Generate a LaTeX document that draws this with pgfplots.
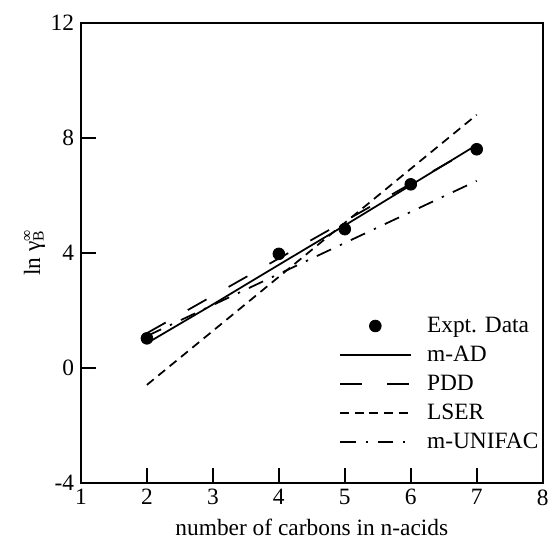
\documentclass[border=0pt]{standalone}
\usepackage{fontspec}
\setmainfont{Liberation Serif}
\usepackage{pgfplots}
\pgfplotsset{compat=1.18}

\begin{document}
\begin{tikzpicture}
\begin{axis}[
  scale only axis,
  width=236bp, height=235bp,
  xmin=1, xmax=8, ymin=-4, ymax=12,
  xtick={1,2,3,4,5,6,7,8}, ytick={-4,0,4,8,12},
  xtick pos=left, ytick pos=left,
  xtick align=inside, ytick align=inside,
  major tick length=0pt,
  axis line style={line width=1pt},
  unbounded coords=jump,
  /pgf/number format/assume math mode=true,
  tick label style={font=\fontsize{12}{14}\selectfont},
  label style={font=\fontsize{12}{14}\selectfont},
  title={\rule{0pt}{5.5bp}},
  title style={inner sep=0pt, at={(0.5,1)}, anchor=south},
  xlabel={number of carbons in n-acids},
  ylabel={ln γ\rlap{\textsuperscript{∞}}\textsubscript{B}},
  xlabel style={yshift=1.5pt, inner ysep=5pt},
  ylabel style={yshift=-13pt, inner ysep=12.3pt},
  legend style={at={(1.0,0.05)}, anchor=south east, draw=none, fill=none,
    inner xsep=0pt,
    font=\fontsize{12}{14}\selectfont, row sep=1.5pt, cells={anchor=west}},
  legend image code/.code={\draw[#1] (0cm,0cm) -- (36bp,0cm); \path (42bp,0);},
]
% tick marks, pointing into the box
\addplot[forget plot, black, line width=0.9pt, mark=none]
  coordinates {(1,0) (1.226,0) (1,nan) (1,4) (1.226,4) (1,nan)
               (1,8) (1.226,8) (1,nan) (1,-4) (1.226,-4) (1,nan)
               (1,12) (1.226,12)};
\addplot[forget plot, black, line width=0.9pt, mark=none]
  coordinates {(2,-4) (2,-3.48) (2,nan) (3,-4) (3,-3.48) (3,nan)
               (4,-4) (4,-3.48) (4,nan) (5,-4) (5,-3.48) (5,nan)
               (6,-4) (6,-3.48) (6,nan) (7,-4) (7,-3.48)};
\addplot[only marks, mark=*, mark size=3bp, black,
  legend image code/.code={\fill[black] (18bp,0) circle (3bp); \path (0,0) (42bp,0);}]
  coordinates {(2,1.02) (4,3.96) (5,4.82) (6,6.38) (7,7.6)};
\addlegendentry{Expt. Data}
\addplot[black, line width=0.9pt, mark=none]
  coordinates {(2,0.85) (3,2.2) (4,3.58) (5,4.95) (6,6.35) (7,7.75)};
\addlegendentry{m-AD}
\addplot[black, line width=0.9pt, mark=none, dash pattern=on 11bp off 13bp]
  coordinates {(2,1.2) (3,2.5) (4,3.8) (5,5.1) (6,6.4) (7,7.7)};
\addlegendentry{PDD}
\addplot[black, line width=0.9pt, mark=none, dash pattern=on 4.5bp off 3bp]
  coordinates {(2,-0.6) (7,8.8)};
\addlegendentry{LSER}
\addplot[black, line width=0.9pt, mark=none, dash pattern=on 8bp off 5bp on 1.2bp off 5bp]
  coordinates {(2,1.1) (7,6.5)};
\addlegendentry{m-UNIFAC}
\end{axis}
\end{tikzpicture}
\end{document}
